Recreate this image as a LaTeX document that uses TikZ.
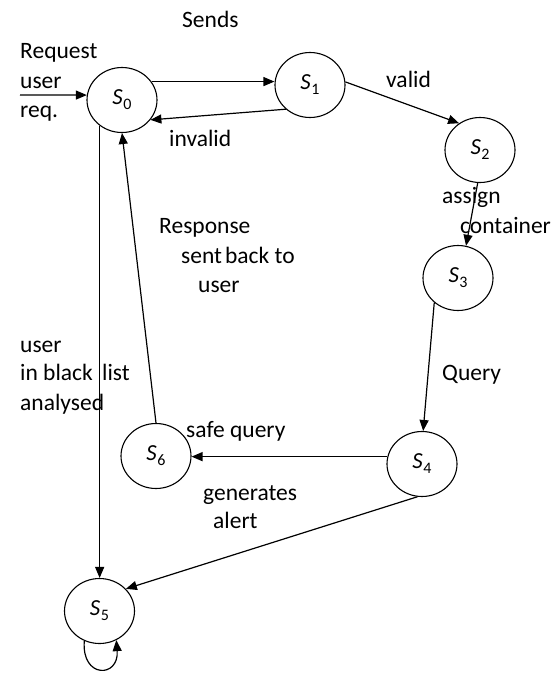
\documentclass[tikz,border=0pt]{standalone}
\usepackage{fontspec}
\setmainfont{Carlito}
\usetikzlibrary{arrows.meta,shapes.geometric}
\newcommand{\stname}[1]{{\itshape S}\kern0.5pt\raisebox{-0.45ex}{\fontsize{16}{16}\selectfont #1}}
\tikzset{
  state/.style={draw, line width=1.1pt, ellipse, minimum width=70pt, minimum height=65pt, inner sep=0pt, font=\fontsize{23}{23}\selectfont},
  conn/.style={draw, line width=1.2pt, -{Triangle[length=11pt,width=9pt]}},
  lbl/.style={anchor=base west, inner sep=0pt, font=\fontsize{23.5}{29}\selectfont}
}
\begin{document}
\begin{tikzpicture}[x=1pt,y=-1pt]
\useasboundingbox (0,0) rectangle (559,675);
\node[state] (s0) at (122,100) {\stname{0}};
\node[state] (s1) at (310,85) {\stname{1}};
\node[state] (s2) at (480,150) {\stname{2}};
\node[state] (s3) at (458,278) {\stname{3}};
\node[state] (s4) at (422,464) {\stname{4}};
\node[state] (s6) at (156,456) {\stname{6}};
\node[state] (s5) at (99.5,611) {\stname{5}};
\coordinate (in) at (20,95);
% connectors
\draw[conn] (in) -- (s0.172);
\draw[conn] (s0.32) -- (s0.32 -| s1.west);
\draw[conn] (s1.225) -- (s0.-35);
\draw[conn] (s1.5) -- (s2.128);
\draw[conn] (s2.266) -- (s3.76);
\draw[conn] (s3.226) -- (s4.88);
\draw[conn] (s4.168) -- (s4.168 -| s6.east);
\draw[conn] (s4.262) -- (s5.40);
\draw[conn] (s0.229) -- (s0.229 |- s5.north);
\draw[conn] (s6.north) -- (s0.south);
\draw[conn] (s5.243) .. controls +(-3,38) and +(3,38) .. (s5.300);
% labels
\node[lbl] (l1) at (182,27) {Sends};
\node[lbl] (l2a) at (20,58) {Request};
\node[lbl] (l2b) at (20,88) {user};
\node[lbl] (l2c) at (20,117) {req.};
\node[lbl] (l3) at (169,146) {invalid};
\node[lbl] (l4) at (386,87) {valid};
\node[lbl] (l5) at (442,203) {assign};
\node[lbl] (l6) at (460,233) {container};
\node[lbl] (l7) at (159,233) {Response};
\node[lbl] (l8) at (181,263) {sent\hspace{3pt}back to};
\node[lbl] (l9) at (198,292) {user};
\node[lbl] (l10a) at (20,352) {user};
\node[lbl] (l10b) at (20,380) {in black};
\node[lbl] (l10d) at (102,380) {list};
\node[lbl] (l10c) at (20,410) {analysed};
\node[lbl] (l11) at (442,380) {Query};
\node[lbl] (l12) at (186,437) {safe query};
\node[lbl] (l13) at (203,500) {generates};
\node[lbl] (l14) at (213,528) {alert};
\end{tikzpicture}
\end{document}
